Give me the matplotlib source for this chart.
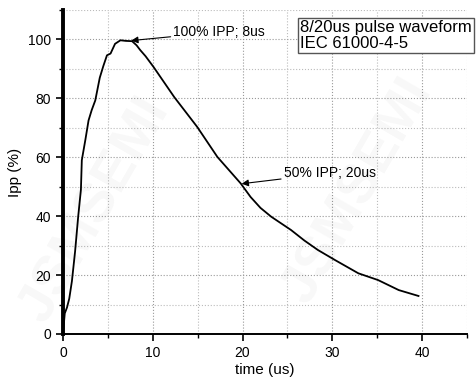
import numpy as np
import matplotlib
matplotlib.use('Agg')
import matplotlib.pyplot as plt
from matplotlib.ticker import MultipleLocator

plt.rcParams['font.family'] = ['Liberation Sans', 'DejaVu Sans']

## Waveform (time in us, current in % of Ipp)
t_us = [0, 0.2, 0.45, 0.7, 1.0, 1.35, 1.7, 2.0, 2.1, 2.5, 2.85, 3.2, 3.6,
        4.1, 4.5, 4.9, 5.3, 5.8, 6.4, 7.0, 7.7, 8.2, 8.6, 9.2, 10.1, 12.4,
        14.95, 17.2, 19.8, 20.9, 22.0, 23.2, 25.4, 26.9, 28.4, 30.3, 32.9,
        35.1, 37.4, 38.5, 39.6]
ipp = [0, 7, 9, 12, 18, 28, 40, 49, 59, 66, 72.5, 76, 79.3,
       87, 91, 94.6, 95.2, 98.5, 99.7, 99.5, 99.4, 98, 96.4, 94.3, 90.6, 80.4,
       70.3, 60.1, 51.1, 46.5, 42.8, 39.8, 35.3, 31.7, 28.5, 25.1, 20.6,
       18.3, 14.9, 13.9, 12.9]

peak_pt = (7.6, 99.6)
half_pt = (19.9, 51.0)
peak_label = '100% IPP; 8us'
half_label = '50% IPP; 20us'
box_text = '8/20us pulse waveform\nIEC 61000-4-5'

fig = plt.figure(figsize=(4.77, 3.83), dpi=100)
ax = fig.add_axes([0.132, 0.128, 0.847, 0.846])

ax.plot(t_us, ipp, color='black', lw=1.3)

ax.set_xlim(0, 45)
ax.set_ylim(0, 110)
ax.xaxis.set_major_locator(MultipleLocator(10))
ax.xaxis.set_minor_locator(MultipleLocator(5))
ax.yaxis.set_major_locator(MultipleLocator(20))
ax.yaxis.set_minor_locator(MultipleLocator(10))
ax.grid(which='major', color='#999999', ls=':', lw=0.8)
ax.grid(which='minor', color='#bbbbbb', ls=':', lw=0.8)
ax.set_axisbelow(True)

for s in ['top', 'right']:
    ax.spines[s].set_visible(False)
ax.spines['left'].set_linewidth(2.8)
ax.spines['bottom'].set_linewidth(1.4)
ax.tick_params(which='major', direction='out', length=5, width=1.2, labelsize=10)
ax.tick_params(which='minor', direction='out', length=3, width=1.0)

ax.set_xlabel('time (us)', fontsize=11, labelpad=2)
ax.set_ylabel('Ipp (%)', fontsize=11, labelpad=4)

ax.annotate(peak_label, xy=peak_pt, xytext=(12.3, 102.5), fontsize=10,
            va='center', ha='left',
            arrowprops=dict(arrowstyle='-|>', color='black', lw=0.8,
                            shrinkA=0, shrinkB=0, mutation_scale=10))
ax.annotate(half_label, xy=half_pt, xytext=(24.6, 54.6), fontsize=10,
            va='center', ha='left',
            arrowprops=dict(arrowstyle='-|>', color='black', lw=0.8,
                            shrinkA=0, shrinkB=0, mutation_scale=10))

fig.text(0.629, 0.907, box_text, fontsize=12, va='center', ha='left',
         linespacing=1.1,
         bbox=dict(boxstyle='square,pad=0.12', fc='white', ec='#555555', lw=1.0))

# faint watermark
fig.text(0.2, 0.45, 'JSMSEMI', fontsize=40, color='#000000', alpha=0.03,
         rotation=60, ha='center', va='center', fontweight='bold')
fig.text(0.75, 0.5, 'JSMSEMI', fontsize=40, color='#000000', alpha=0.03,
         rotation=60, ha='center', va='center', fontweight='bold')

fig.savefig('out.png', dpi=100)
